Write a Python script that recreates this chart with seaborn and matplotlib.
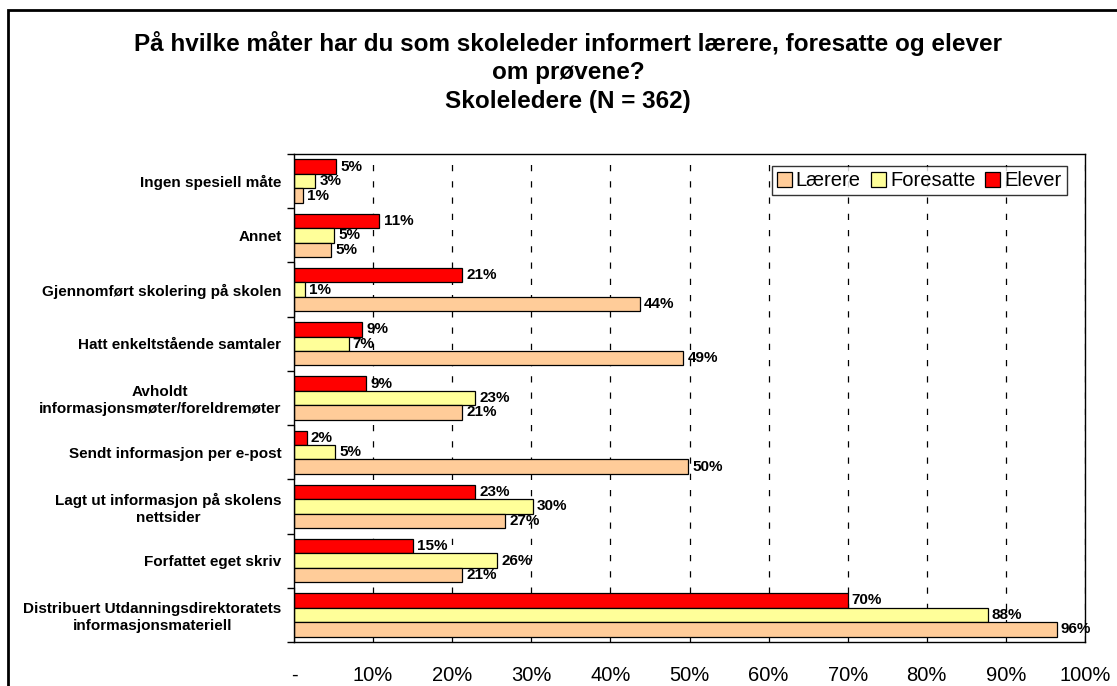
import numpy as np
import pandas as pd
import matplotlib
matplotlib.use('Agg')
import matplotlib.pyplot as plt
from matplotlib.patches import Patch, Rectangle
import seaborn as sns

# Data (percent of school leaders)
categories = [
    'Ingen spesiell måte',
    'Annet',
    'Gjennomført skolering på skolen',
    'Hatt enkeltstående samtaler',
    'Avholdt\ninformasjonsmøter/foreldremøter',
    'Sendt informasjon per e-post',
    'Lagt ut informasjon på skolens\nnettsider',
    'Forfattet eget skriv',
    'Distribuert Utdanningsdirektoratets\ninformasjonsmateriell',
]
laerere = [1.1, 4.7, 43.7, 49.2, 21.3, 49.8, 26.7, 21.3, 96.4]
foresatte = [2.7, 5.1, 1.35, 6.9, 22.9, 5.2, 30.2, 25.7, 87.7]
elever = [5.3, 10.8, 21.3, 8.6, 9.1, 1.6, 22.9, 15.0, 70.0]

series_names = ['Lærere', 'Foresatte', 'Elever']
colors = {'Lærere': '#FFCC99', 'Foresatte': '#FFFF99', 'Elever': '#FF0000'}
xticks = [0, 10, 20, 30, 40, 50, 60, 70, 80, 90, 100]
xticklabels = ['-'] + [f'{t}%' for t in xticks[1:]]

title = ('På hvilke måter har du som skoleleder informert lærere, foresatte og elever\n'
         'om prøvene?\nSkoleledere (N = 362)')

sns.set_theme(style='white')
plt.rcParams['font.family'] = ['Liberation Sans', 'DejaVu Sans']
plt.rcParams['text.color'] = 'black'
plt.rcParams['xtick.color'] = 'black'
plt.rcParams['ytick.color'] = 'black'
plt.rcParams['axes.labelcolor'] = 'black'

df = pd.DataFrame({
    'kategori': categories * 3,
    'gruppe': ['Lærere'] * 9 + ['Foresatte'] * 9 + ['Elever'] * 9,
    'andel': laerere + foresatte + elever,
})

fig = plt.figure(figsize=(11.17, 6.86), dpi=100)
ax = fig.add_axes([294 / 1117, 1 - 642 / 686, (1085 - 294) / 1117, (642 - 154) / 686])

sns.barplot(data=df, y='kategori', x='andel', hue='gruppe',
            hue_order=['Elever', 'Foresatte', 'Lærere'], order=categories,
            palette=colors, orient='h', width=0.8, edgecolor='black',
            linewidth=0.9, saturation=1, errorbar=None, legend=False, ax=ax)

# value labels
for cont in ax.containers:
    vals = cont.datavalues
    ax.bar_label(cont, labels=[f'{v:.0f}%' for v in vals], padding=3,
                 fontsize=11, fontweight='bold', color='black')

ax.set_xlim(0, 100)
ax.set_ylim(len(categories) - 0.5, -0.5)
ax.set_xticks(xticks)
ax.set_xticklabels(xticklabels, fontsize=14.5)
ax.tick_params(axis='x', direction='out', length=6, width=1, color='black',
               labelcolor='black', pad=11)

# ticks between groups, labels at centers
ax.set_yticks(np.arange(-0.5, len(categories), 1))
ax.set_yticklabels([])
ax.set_yticks(np.arange(len(categories)), minor=True)
ax.set_yticklabels(categories, minor=True, fontsize=11, fontweight='bold')
ax.tick_params(axis='y', which='major', direction='out', length=5, width=1, color='black', left=True)
ax.tick_params(axis='y', which='minor', length=0, pad=9, labelcolor='black')
for lbl in ax.get_yticklabels(minor=True):
    lbl.set_multialignment('center')

ax.set_xlabel('')
ax.set_ylabel('')
ax.xaxis.grid(True, color='black', linestyle=(0, (5, 8)), linewidth=0.9)
ax.yaxis.grid(False)
ax.set_axisbelow(True)
for s in ax.spines.values():
    s.set_visible(True)
    s.set_color('black')
    s.set_linewidth(1)

handles = [Patch(facecolor=colors[n], edgecolor='black', linewidth=0.9, label=n) for n in series_names]
leg = ax.legend(handles=handles, ncol=3, loc='upper right', bbox_to_anchor=(0.977, 0.975),
                borderaxespad=0, fontsize=14.5, frameon=True, fancybox=False,
                handlelength=0.75, handleheight=0.75, handletextpad=0.2,
                columnspacing=0.5, borderpad=0.25)
leg.get_frame().set_edgecolor('black')
leg.get_frame().set_linewidth(1)
for t in leg.get_texts():
    t.set_color('black')

fig.text(568 / 1117, 1 - 72 / 686, title, ha='center', va='center',
         fontsize=17.5, fontweight='bold', linespacing=1.3, color='black')

# outer chart border
fig.patches.append(Rectangle((8 / 1117, -0.05), 1.2, 1 - 10 / 686 + 0.05,
                             transform=fig.transFigure, fill=False,
                             edgecolor='black', linewidth=2))

fig.savefig('out.png', dpi=100)
